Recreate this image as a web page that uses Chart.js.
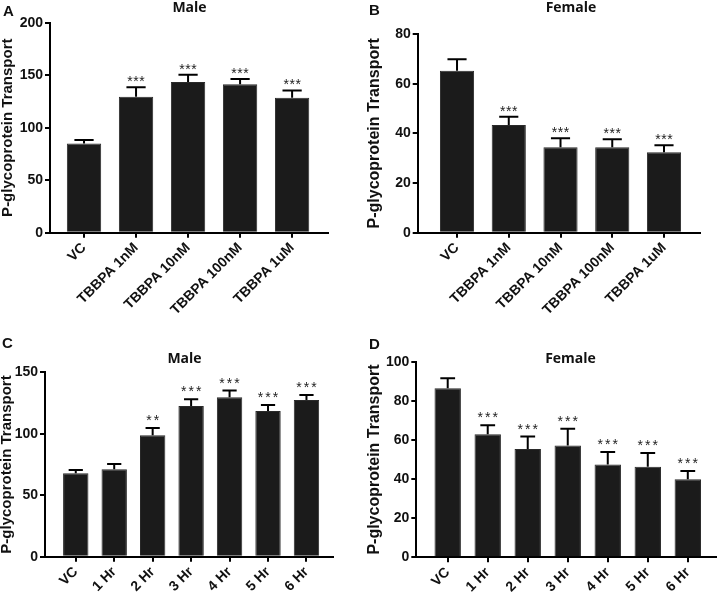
<!DOCTYPE html>
<html>
<head>
<meta charset="utf-8">
<script src="https://cdn.jsdelivr.net/npm/chart.js@4.4.0/dist/chart.umd.min.js"></script>
<style>
  html, body { margin: 0; padding: 0; background: #fff; }
  #fig { position: relative; width: 717px; height: 597px; overflow: hidden; }
  canvas { position: absolute; }
</style>
</head>
<body>
<div id="fig">
  <canvas id="pA" width="358" height="320" style="left:0;top:0"></canvas>
  <canvas id="pB" width="359" height="320" style="left:358px;top:0"></canvas>
  <canvas id="pC" width="358" height="277" style="left:0;top:320px"></canvas>
  <canvas id="pD" width="359" height="277" style="left:358px;top:320px"></canvas>
</div>
<script>
// categories
const doseLabels = ["VC", "TBBPA 1nM", "TBBPA 10nM", "TBBPA 100nM", "TBBPA 1uM"];
const timeLabels = ["VC", "1 Hr", "2 Hr", "3 Hr", "4 Hr", "5 Hr", "6 Hr"];

// A: male, dose
const maleDoseMean = [85, 129.5, 143.5, 141.5, 128.5];
const maleDoseErr = [3.2, 9, 7, 5, 7];
const maleDoseStars = ["", "***", "***", "***", "***"];
// B: female, dose
const femaleDoseMean = [65.2, 43.4, 34.4, 34.4, 32.4];
const femaleDoseErr = [4.6, 3.3, 3.6, 3.2, 2.8];
const femaleDoseStars = ["", "***", "***", "***", "***"];
// C: male, time
const maleTimeMean = [67.9, 71.1, 98.8, 122.6, 129.7, 118.5, 127.5];
const maleTimeErr = [2.6, 4.3, 5.9, 5.5, 5.4, 4.9, 4.1];
const maleTimeStars = ["", "", "**", "***", "***", "***", "***"];
// D: female, time
const femaleTimeMean = [86.4, 62.9, 55.4, 57.1, 47.5, 46.3, 39.9];
const femaleTimeErr = [5.1, 4.6, 6.3, 8.6, 6.3, 7.0, 4.2];
const femaleTimeStars = ["", "***", "***", "***", "***", "***", "***"];

// y tick ranges
const yMaxA = 200, yStepA = 50;
const yMaxB = 80, yStepB = 20;
const yMaxC = 150, yStepC = 50;
const yMaxD = 100, yStepD = 20;

Chart.defaults.font.family = "'Liberation Sans', Arial, sans-serif";
Chart.defaults.color = "#111";

// error bars, significance stars, panel title and letter
function makeDecor(o) {
  return {
    id: "decor",
    afterDatasetsDraw(chart) {
      const ctx = chart.ctx;
      const meta = chart.getDatasetMeta(0);
      const y = chart.scales.y;
      ctx.save();
      ctx.strokeStyle = "#000";
      ctx.fillStyle = "#222";
      ctx.lineWidth = 2;
      ctx.font = "14px 'Liberation Sans', Arial, sans-serif";
      ctx.textAlign = "center";
      ctx.textBaseline = "alphabetic";
      meta.data.forEach((bar, i) => {
        const top = y.getPixelForValue(o.means[i] + o.errs[i]);
        const half = bar.width * 0.28;
        ctx.beginPath();
        ctx.moveTo(bar.x, bar.y);
        ctx.lineTo(bar.x, top);
        ctx.moveTo(bar.x - half, top);
        ctx.lineTo(bar.x + half, top);
        ctx.stroke();
        const s = o.stars[i];
        for (let k = 0; k < s.length; k++) {
          const sx = bar.x + (k - (s.length - 1) / 2) * o.starGap;
          ctx.fillText("*", sx, top - o.starLift);
        }
      });
      ctx.restore();
    },
    afterDraw(chart) {
      const ctx = chart.ctx;
      ctx.save();
      ctx.fillStyle = "#111";
      ctx.textBaseline = "alphabetic";
      ctx.font = "bold 14px 'Open Sans', sans-serif";
      ctx.textAlign = "center";
      ctx.fillText(o.title, o.titleX, o.titleY);
      ctx.font = "bold 15px 'Liberation Sans', Arial, sans-serif";
      ctx.textAlign = "left";
      ctx.fillText(o.letter, o.letterX, o.letterY);
      ctx.restore();
    }
  };
}

function makeChart(id, o) {
  return new Chart(document.getElementById(id), {
    type: "bar",
    data: {
      datasets: [{
        data: o.means.map((v, i) => ({ x: i, y: v })),
        backgroundColor: "#1b1b1b",
        borderColor: "#2a2a2a",
        borderWidth: 1,
        barPercentage: 0.66,
        categoryPercentage: 1
      }]
    },
    options: {
      responsive: false,
      animation: false,
      layout: { padding: { left: 0, top: o.padTop, right: o.padRight, bottom: 0 } },
      plugins: { legend: { display: false }, tooltip: { enabled: false } },
      scales: {
        x: {
          type: "linear",
          min: o.xMin,
          max: o.xMax,
          offset: false,
          grid: { drawOnChartArea: false, drawTicks: true, tickLength: 5, color: "#000", lineWidth: 2, offset: false },
          border: { display: true, color: "#000", width: 2 },
          ticks: {
            stepSize: 1,
            includeBounds: false,
            autoSkip: false,
            minRotation: 45,
            maxRotation: 45,
            padding: 2,
            color: "#111",
            font: { size: 14, weight: "bold" },
            callback: (v) => (Number.isInteger(v) && o.labels[v] !== undefined ? o.labels[v] : "")
          },
          afterFit: (s) => { s.height = o.xHeight; }
        },
        y: {
          min: 0,
          max: o.yMax,
          grid: { drawOnChartArea: false, tickLength: 5, color: "#000", lineWidth: 2 },
          border: { display: true, color: "#000", width: 2 },
          ticks: { stepSize: o.yStep, padding: 2, color: "#111", font: { size: 14, weight: "bold" } },
          title: {
            display: true,
            text: "P-glycoprotein Transport",
            color: "#111",
            font: { size: o.yTitleSize, weight: "bold" },
            padding: { top: o.yTitlePad, bottom: 0 }
          },
          afterFit: (s) => { s.width = o.yWidth; }
        }
      }
    },
    plugins: [makeDecor(o)]
  });
}

makeChart("pA", {
  labels: doseLabels, means: maleDoseMean, errs: maleDoseErr, stars: maleDoseStars,
  yMax: yMaxA, yStep: yStepA, xMin: -0.654, xMax: 4.69,
  yWidth: 50, xHeight: 87.3, padTop: 22.7, padRight: 30,
  yTitleSize: 15, yTitlePad: -1,
  starGap: 6, starLift: 1,
  title: "Male", titleX: 189.5, titleY: 12, letter: "A", letterX: 3, letterY: 16
});

makeChart("pB", {
  labels: doseLabels, means: femaleDoseMean, errs: femaleDoseErr, stars: femaleDoseStars,
  yMax: yMaxB, yStep: yStepB, xMin: -0.76, xMax: 4.69,
  yWidth: 59.7, xHeight: 87.3, padTop: 34, padRight: 17.3,
  yTitleSize: 16, yTitlePad: 7.4,
  starGap: 6, starLift: 1,
  title: "Female", titleX: 213, titleY: 12, letter: "B", letterX: 11, letterY: 15
});

makeChart("pC", {
  labels: timeLabels, means: maleTimeMean, errs: maleTimeErr, stars: maleTimeStars,
  yMax: yMaxC, yStep: yStepC, xMin: -0.8, xMax: 6.69,
  yWidth: 45, xHeight: 40.3, padTop: 52.3, padRight: 25,
  yTitleSize: 15, yTitlePad: -2,
  starGap: 7.5, starLift: 3,
  title: "Male", titleX: 184.5, titleY: 43, letter: "C", letterX: 2, letterY: 28
});

makeChart("pD", {
  labels: timeLabels, means: femaleTimeMean, errs: femaleTimeErr, stars: femaleTimeStars,
  yMax: yMaxD, yStep: yStepD, xMin: -0.785, xMax: 6.73,
  yWidth: 58.3, xHeight: 39.7, padTop: 41.7, padRight: 0,
  yTitleSize: 16, yTitlePad: 7.4,
  starGap: 7.5, starLift: 3,
  title: "Female", titleX: 212.5, titleY: 43, letter: "D", letterX: 11, letterY: 29
});
</script>
</body>
</html>
